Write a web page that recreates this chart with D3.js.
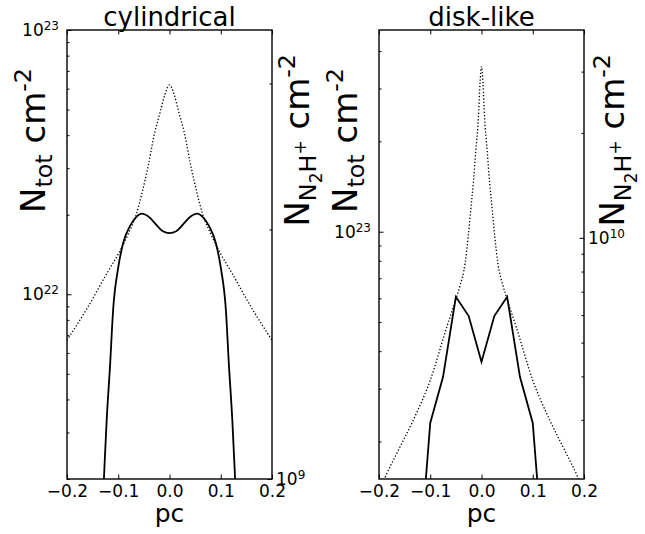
<!DOCTYPE html>
<html>
<head>
<meta charset="utf-8">
<script src="https://cdn.jsdelivr.net/npm/d3@7"></script>
<style>
  body { margin: 0; background: #fff; }
  text { font-family: "DejaVu Sans", sans-serif; fill: #000; }
</style>
</head>
<body>
<svg id="chart" width="645" height="534"></svg>
<script>
// x ticks shared by both panels (pc)
const xTicks = [-0.2, -0.1, 0.0, 0.1, 0.2];

// cylindrical: total column density (dotted, left axis)
const cylTotX = [-0.2, -0.16, -0.12, -0.1, -0.08, -0.065, -0.054, -0.041, -0.03, -0.018, -0.009, 0,
                 0.009, 0.018, 0.03, 0.041, 0.054, 0.065, 0.08, 0.1, 0.12, 0.16, 0.2];
const cylTot = [6.7e21, 8.9e21, 1.22e22, 1.42e22, 1.7e22, 2.0e22, 2.4e22, 3.1e22, 4.0e22, 4.9e22, 5.7e22, 6.2e22,
                5.7e22, 4.9e22, 4.0e22, 3.1e22, 2.4e22, 2.0e22, 1.7e22, 1.42e22, 1.22e22, 8.9e21, 6.7e21];

// cylindrical: N2H+ column density (solid, right axis)
const cylN2hX = [-0.135, -0.128, -0.1225, -0.116, -0.11, -0.1, -0.09, -0.077, -0.065, -0.054, -0.04, -0.027, -0.013, 0,
                 0.013, 0.027, 0.04, 0.054, 0.065, 0.077, 0.09, 0.1, 0.11, 0.116, 0.1225, 0.128, 0.135];
const cylN2h = [0.8e9, 1.0e9, 1.18e9, 1.37e9, 1.6e9, 1.8e9, 1.93e9, 2.02e9, 2.07e9, 2.09e9, 2.07e9, 2.03e9, 1.99e9, 1.98e9,
                1.99e9, 2.03e9, 2.07e9, 2.09e9, 2.07e9, 2.02e9, 1.93e9, 1.8e9, 1.6e9, 1.37e9, 1.18e9, 1.0e9, 0.8e9];

// disk-like: total column density (dotted, left axis)
const diskTotX = [-0.2, -0.188, -0.165, -0.133, -0.1, -0.068, -0.048, -0.042, -0.032, -0.026, -0.021, -0.016, -0.011, -0.006, -0.003, 0,
                  0.003, 0.006, 0.011, 0.016, 0.021, 0.026, 0.032, 0.042, 0.048, 0.068, 0.1, 0.133, 0.165, 0.188, 0.2];
const diskTot = [1.35e22, 1.52e22, 1.83e22, 2.36e22, 3.2e22, 4.8e22, 6.1e22, 6.6e22, 7.85e22, 9.6e22, 1.18e23, 1.45e23, 1.87e23, 2.4e23, 3.1e23, 3.55e23,
                 3.1e23, 2.4e23, 1.87e23, 1.45e23, 1.18e23, 9.6e22, 7.85e22, 6.6e22, 6.1e22, 4.8e22, 3.2e22, 2.36e22, 1.83e22, 1.52e22, 1.35e22];

// disk-like: N2H+ column density (solid, right axis)
const diskN2hX = [-0.125, -0.1, -0.075, -0.05, -0.025, 0, 0.025, 0.05, 0.075, 0.1, 0.125];
const diskN2h = [1.0e9, 2.94e9, 3.99e9, 6.77e9, 5.96e9, 4.4e9, 5.96e9, 6.77e9, 3.99e9, 2.94e9, 1.0e9];

const svg = d3.select("#chart");
const T = 30, B = 479;
const LABEL = 34;

// majors (powers of ten) and minors (k * 10^n) inside a log domain
function logTicks(dom) {
  const major = [], minor = [];
  const lo = Math.floor(Math.log10(dom[0])), hi = Math.ceil(Math.log10(dom[1]));
  for (let e = lo; e <= hi; e++) {
    for (let k = 1; k < 10; k++) {
      const v = k * Math.pow(10, e);
      if (v < dom[0] * 0.999 || v > dom[1] * 1.001) continue;
      (k === 1 ? major : minor).push(v);
    }
  }
  return { major, minor };
}

// turn "10" tick text into 10 + superscript exponent
function powLabels(sel) {
  sel.selectAll(".tick text").each(function(d) {
    const t = d3.select(this).text("");
    t.append("tspan").text("10");
    t.append("tspan").attr("dy", "-0.5em").style("font-size", "12px")
      .text(Math.round(Math.log10(d)));
  });
}

function styleAxis(sel) {
  sel.select(".domain").remove();
  sel.selectAll(".tick line").attr("stroke", "#000").attr("stroke-width", 1);
  sel.selectAll("text").style("font-size", "17px").style("font-family", "DejaVu Sans, sans-serif");
}

function yLabel(x, yEnd, kind) {
  const s = LABEL * 0.7, ss = LABEL * 0.5;
  const t = svg.append("text")
    .attr("transform", `translate(${x},${yEnd}) rotate(-90)`)
    .attr("text-anchor", "end")
    .style("font-size", LABEL + "px");
  t.append("tspan").text("N");
  if (kind === "tot") {
    t.append("tspan").attr("dy", 0.22 * LABEL).style("font-size", s + "px").text("tot");
    t.append("tspan").attr("dy", -0.22 * LABEL).text(" cm");
  } else {
    t.append("tspan").attr("dy", 0.22 * LABEL).style("font-size", s + "px").text("N");
    t.append("tspan").attr("dy", 0.15 * LABEL).style("font-size", ss + "px").text("2");
    t.append("tspan").attr("dy", -0.15 * LABEL).style("font-size", s + "px").text("H");
    t.append("tspan").attr("dy", -0.3 * LABEL).style("font-size", ss + "px").text("+");
    t.append("tspan").attr("dy", 0.08 * LABEL).text(" cm");
  }
  t.append("tspan").attr("dy", -0.4 * LABEL).style("font-size", s + "px").text("-2");
}

function drawPanel(p) {
  const x = d3.scaleLinear().domain([-0.2, 0.2]).range([p.x0, p.x1]);
  const yL = d3.scaleLog().domain(p.totDomain).range([B, T]);
  const yR = d3.scaleLog().domain(p.n2hDomain).range([B, T]);

  const clipId = "clip-" + p.id;
  svg.append("clipPath").attr("id", clipId)
    .append("rect").attr("x", p.x0).attr("y", T).attr("width", p.x1 - p.x0).attr("height", B - T);

  const plot = svg.append("g").attr("clip-path", `url(#${clipId})`);

  const totLine = d3.line().x(d => x(d[0])).y(d => yL(d[1])).curve(p.curve);
  plot.append("path")
    .datum(p.totX.map((v, i) => [v, p.tot[i]]))
    .attr("d", totLine)
    .attr("fill", "none")
    .attr("stroke", "#000")
    .attr("stroke-width", 1.3)
    .attr("stroke-dasharray", "1.3,2");

  const n2hLine = d3.line().x(d => x(d[0])).y(d => yR(d[1])).curve(p.n2hCurve);
  plot.append("path")
    .datum(p.n2hX.map((v, i) => [v, p.n2h[i]]))
    .attr("d", n2hLine)
    .attr("fill", "none")
    .attr("stroke", "#000")
    .attr("stroke-width", 1.8);

  // x axes (ticks pointing in)
  svg.append("g").attr("transform", `translate(0,${B})`)
    .call(d3.axisBottom(x).tickValues(xTicks).tickSize(-4.5).tickPadding(6).tickFormat(d3.format(".1f")))
    .call(styleAxis);
  svg.append("g").attr("transform", `translate(0,${T})`)
    .call(d3.axisTop(x).tickValues(xTicks).tickSize(-4.5).tickFormat(""))
    .call(styleAxis);

  // left log axis
  const lt = logTicks(p.totDomain);
  svg.append("g").attr("transform", `translate(${p.x0},0)`)
    .call(d3.axisLeft(yL).tickValues(lt.minor).tickSize(-2.5).tickFormat(""))
    .call(styleAxis);
  svg.append("g").attr("transform", `translate(${p.x0},0)`)
    .call(d3.axisLeft(yL).tickValues(lt.major).tickSize(-4.5).tickPadding(8))
    .call(styleAxis).call(powLabels);

  // right log axis
  const rt = logTicks(p.n2hDomain);
  svg.append("g").attr("transform", `translate(${p.x1},0)`)
    .call(d3.axisRight(yR).tickValues(rt.minor).tickSize(-2.5).tickFormat(""))
    .call(styleAxis);
  svg.append("g").attr("transform", `translate(${p.x1},0)`)
    .call(d3.axisRight(yR).tickValues(rt.major).tickSize(-4.5).tickPadding(4))
    .call(styleAxis).call(powLabels);

  // frame
  svg.append("rect")
    .attr("x", p.x0).attr("y", T).attr("width", p.x1 - p.x0).attr("height", B - T)
    .attr("fill", "none").attr("stroke", "#000").attr("stroke-width", 1.4);

  const cx = (p.x0 + p.x1) / 2;
  svg.append("text").attr("x", cx).attr("y", 26).attr("text-anchor", "middle")
    .style("font-size", "26px").text(p.title);
  svg.append("text").attr("x", cx).attr("y", 522).attr("text-anchor", "middle")
    .style("font-size", "25px").text("pc");

  yLabel(p.totLabel[0], p.totLabel[1], "tot");
  yLabel(p.n2hLabel[0], p.n2hLabel[1], "n2h");
}

drawPanel({
  id: "cyl", title: "cylindrical", x0: 67, x1: 272,
  totX: cylTotX, tot: cylTot, n2hX: cylN2hX, n2h: cylN2h,
  totDomain: [2e21, 1e23], n2hDomain: [1e9, 3.48e9],
  curve: d3.curveMonotoneX, n2hCurve: d3.curveMonotoneX,
  totLabel: [45, 68], n2hLabel: [309, 54]
});

drawPanel({
  id: "disk", title: "disk-like", x0: 379, x1: 584,
  totX: diskTotX, tot: diskTot, n2hX: diskN2hX, n2h: diskN2h,
  totDomain: [1.5e22, 4.7e23], n2hDomain: [2.03e9, 3.95e10],
  curve: d3.curveMonotoneX, n2hCurve: d3.curveLinear,
  totLabel: [357, 68], n2hLabel: [624, 54]
});
</script>
</body>
</html>
